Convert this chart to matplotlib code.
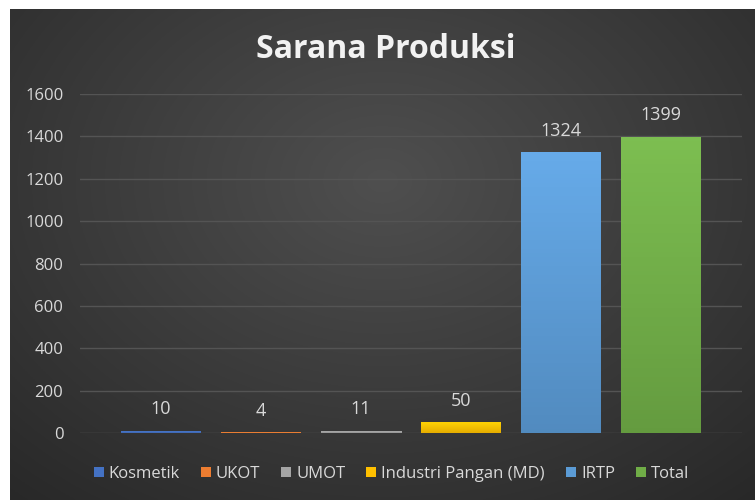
import numpy as np
import matplotlib
matplotlib.use("Agg")
import matplotlib.pyplot as plt
from matplotlib.patches import Patch
from matplotlib.colors import to_rgb

categories = ["Kosmetik", "UKOT", "UMOT", "Industri Pangan (MD)", "IRTP", "Total"]
values = [10, 4, 11, 50, 1324, 1399]
colors = ["#4472C4", "#ED7D31", "#A5A5A5", "#FFC000", "#5B9BD5", "#70AD47"]
yticks = [0, 200, 400, 600, 800, 1000, 1200, 1400, 1600]
title = "Sarana Produksi"

W, H = 755, 500
fig = plt.figure(figsize=(W / 100, H / 100), dpi=100)
fig.patch.set_facecolor("white")

# dark radial gradient background
bg = fig.add_axes([10 / W, 0, 1 - 10 / W, 1 - 9 / H])
bg.set_axis_off()
yy, xx = np.mgrid[0:1:300j, 0:1:450j]
r = np.sqrt(((xx - 0.5) / 0.75) ** 2 + ((yy - 0.35) / 0.85) ** 2)
g = np.clip(0.31 - 0.15 * r, 0.15, 0.32)
img = np.dstack([g, g, g])
bg.imshow(img, aspect="auto", extent=[0, 1, 1, 0])
bg.set_xlim(0, 1)
bg.set_ylim(1, 0)

# plot area
x0, x1 = 80, 742
y0, y1 = 433, 94
ax = fig.add_axes([x0 / W, 1 - y0 / H, (x1 - x0) / W, (y0 - y1) / H])
ax.patch.set_alpha(0)
ax.set_ylim(0, 1600)
ax.set_xlim(-0.81, 5.81)
ax.set_yticks(yticks)
ax.set_yticklabels([str(t) for t in yticks], color="#d9d9d9", fontsize=12,
                   family="Open Sans")
ax.tick_params(axis="y", length=0, pad=12)
ax.set_xticks([])
for s in ax.spines.values():
    s.set_visible(False)
ax.yaxis.grid(True, color="#545454", linewidth=1)
ax.set_axisbelow(True)

xs = np.arange(len(values))
bars = ax.bar(xs, values, width=0.8, color=colors, zorder=2)
for b, c in zip(bars, colors):
    base = np.array(to_rgb(c))
    top = np.clip(base * 1.07 + 0.02, 0, 1)
    bot = np.clip(base * 0.9, 0, 1)
    t = np.linspace(0, 1, 64)[:, None]
    grad = (top[None, :] * (1 - t) + bot[None, :] * t)[:, None, :]
    x_ = b.get_x()
    w_ = b.get_width()
    h_ = b.get_height()
    im = ax.imshow(grad, extent=[x_, x_ + w_, 0, h_], aspect="auto",
                   zorder=3, origin="upper")
    im.set_clip_path(b)

for x, v in zip(xs, values):
    ax.annotate(str(v), (x, v), xytext=(0, 9), textcoords="offset points",
                ha="center", va="bottom", color="#d9d9d9", fontsize=13,
                family="Open Sans")

fig.text(386 / W, 1 - 49 / H, title, ha="center", va="center", color="#f2f2f2",
         fontsize=23, fontweight="bold", family="Open Sans")

handles = [Patch(facecolor=c, edgecolor="none") for c in colors]
leg = fig.legend(handles, categories, loc="center",
                 bbox_to_anchor=(391.5 / W, 1 - 474 / H),
                 ncol=6, frameon=False, handlelength=0.6, handleheight=0.6,
                 handletextpad=0.3, columnspacing=1.26, borderpad=0,
                 prop={"family": "Open Sans", "size": 12})
for t in leg.get_texts():
    t.set_color("#d9d9d9")

fig.savefig("out.png", dpi=100, facecolor=fig.get_facecolor())
